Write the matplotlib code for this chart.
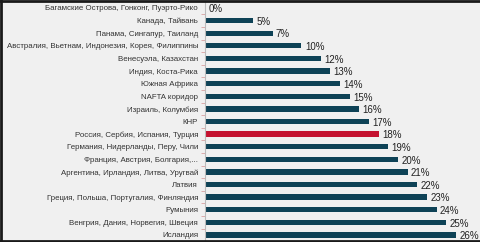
import matplotlib
matplotlib.use('Agg')
import matplotlib.pyplot as plt
from matplotlib.lines import Line2D

countries = ['Багамские Острова, Гонконг, Пуэрто-Рико', 'Канада, Тайвань',
             'Панама, Сингапур, Таиланд',
             'Австралия, Вьетнам, Индонезия, Корея, Филиппины',
             'Венесуэла, Казахстан', 'Индия, Коста-Рика', 'Южная Африка',
             'NAFTA коридор', 'Израиль, Колумбия', 'КНР',
             'Россия, Сербия, Испания, Турция',
             'Германия, Нидерланды, Перу, Чили', 'Франция, Австрия, Болгария,...',
             'Аргентина, Ирландия, Литва, Уругвай', 'Латвия',
             'Греция, Польша, Португалия, Финляндия', 'Румыния',
             'Венгрия, Дания, Норвегия, Швеция', 'Исландия']
values = [0, 5, 7, 10, 12, 13, 14, 15, 16, 17, 18, 19, 20, 21, 22, 23, 24, 25, 26]
highlight = 'Россия, Сербия, Испания, Турция'

plt.rcParams['font.family'] = ['Liberation Sans', 'DejaVu Sans']

fig = plt.figure(figsize=(4.8, 2.42), dpi=100)
fig.patch.set_facecolor('#f0f0f0')
# dark frame on left, top and bottom
for xs, ys in [([0.002, 0.002], [0, 1]), ([0, 1], [0.995, 0.995]), ([0, 1], [0.005, 0.005])]:
    fig.add_artist(Line2D(xs, ys, transform=fig.transFigure, color='#1a1a1a', linewidth=2))

ax = fig.add_axes([0.427, 0.003, 0.563, 0.99])
ax.set_facecolor('#f0f0f0')

y = list(range(len(countries)))
colors = ['#c41230' if c == highlight else '#0e4256' for c in countries]
ax.barh(y, values, height=0.42, color=colors)
for yi, v in zip(y, values):
    ax.text(v + 0.35, yi + 0.1, f'{v}%', va='center', ha='left', fontsize=7,
            color='#222222')

ax.set_yticks(y)
ax.set_yticklabels(countries, fontsize=5.7, color='#333333')
ax.set_yticks([i + 0.5 for i in y[:-1]], minor=True)
ax.tick_params(axis='y', which='major', length=0, pad=5)
ax.tick_params(axis='y', which='minor', length=3, color='#d9a0a0')
ax.set_ylim(len(countries) - 0.5, -0.5)
ax.set_xlim(0, 28)
ax.set_xticks([])
for s in ['top', 'right', 'bottom']:
    ax.spines[s].set_visible(False)
ax.spines['left'].set_color('#bbbbbb')

fig.savefig('out.png', dpi=100, facecolor=fig.get_facecolor())
